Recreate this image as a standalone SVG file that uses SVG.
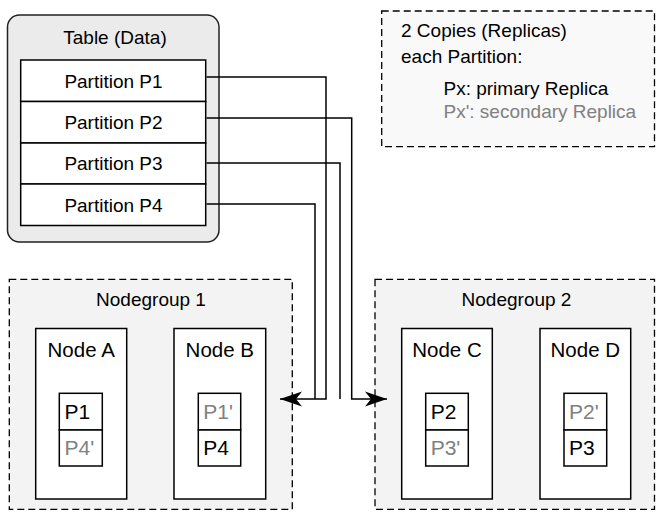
<svg xmlns="http://www.w3.org/2000/svg" width="656" height="512" viewBox="0 0 656 512">
<style>
text{font-family:"Liberation Sans",Arial,sans-serif;fill:#000}
.t19{font-size:19px}
.t20{font-size:20.5px}
.t21{font-size:21px}
.c{text-anchor:middle}
.g{fill:#808080}
.box{fill:#fff;stroke:#000;stroke-width:1.5}
.dash{stroke:#000;stroke-width:1.3;stroke-dasharray:7 4}
.conn{fill:none;stroke:#000;stroke-width:1.5}
</style>
<defs>
<marker id="arr" markerUnits="userSpaceOnUse" markerWidth="24" markerHeight="18" refX="22" refY="9" orient="auto">
<path d="M0,1.5 L22,9 L0,16.5 L6,9 Z" fill="#000"/>
</marker>
</defs>
<g id="table">
<rect x="7.5" y="15" width="211.5" height="227" rx="12" fill="#ebebeb" stroke="#222" stroke-width="1.5"/>
<text class="t19 c" x="115" y="44">Table (Data)</text>
</g>
<g id="partition-p1">
<rect class="box" x="20.7" y="60" width="185" height="41.5"/>
<text class="t19 c" x="113.5" y="88">Partition P1</text>
</g>
<g id="partition-p2">
<rect class="box" x="20.7" y="101.5" width="185" height="41.5"/>
<text class="t19 c" x="113.5" y="129.3">Partition P2</text>
</g>
<g id="partition-p3">
<rect class="box" x="20.7" y="143" width="185" height="41"/>
<text class="t19 c" x="113.5" y="170">Partition P3</text>
</g>
<g id="partition-p4">
<rect class="box" x="20.7" y="184" width="185" height="41.5"/>
<text class="t19 c" x="113.5" y="211.5">Partition P4</text>
</g>
<g id="legend">
<rect class="dash" x="381.7" y="11" width="272.8" height="135.7" fill="#f9f9f9"/>
<text class="t19" x="401" y="37">2 Copies (Replicas)</text>
<text class="t19" x="401" y="63">each Partition:</text>
<text class="t19" x="443.5" y="94.5">Px: primary Replica</text>
<text class="t19 g" x="443.5" y="118">Px': secondary Replica</text>
</g>
<g id="nodegroup-1">
<rect class="dash" x="9.3" y="279.3" width="283" height="230" fill="#f3f3f3"/>
<text class="t19 c" x="151" y="306">Nodegroup 1</text>
</g>
<g id="node-a">
<rect class="box" x="35.7" y="328.5" width="91" height="170.5"/>
<text class="t20 c" x="81.2" y="357.3">Node A</text>
<rect class="box" x="59.3" y="393.3" width="43" height="36.7"/>
<text class="t21" x="64.5" y="418.5">P1</text>
<rect class="box" x="59.3" y="430" width="43" height="36"/>
<text class="t21 g" x="64.5" y="455">P4'</text>
</g>
<g id="node-b">
<rect class="box" x="174" y="328.5" width="91.7" height="170.5"/>
<text class="t20 c" x="219.8" y="357.3">Node B</text>
<rect class="box" x="198.3" y="393.3" width="42.4" height="36.7"/>
<text class="t21 g" x="203.3" y="418.5">P1'</text>
<rect class="box" x="198.3" y="430" width="42.4" height="36"/>
<text class="t21" x="203.3" y="455">P4</text>
</g>
<g id="nodegroup-2">
<rect class="dash" x="375" y="279.3" width="279.5" height="230" fill="#f3f3f3"/>
<text class="t19 c" x="516.5" y="305.5">Nodegroup 2</text>
</g>
<g id="node-c">
<rect class="box" x="401.7" y="328.5" width="90.6" height="170.5"/>
<text class="t20 c" x="447" y="357.3">Node C</text>
<rect class="box" x="425.7" y="393.3" width="42.6" height="36.7"/>
<text class="t21" x="430.7" y="418.5">P2</text>
<rect class="box" x="425.7" y="430" width="42.6" height="36"/>
<text class="t21 g" x="430.7" y="455">P3'</text>
</g>
<g id="node-d">
<rect class="box" x="540" y="328.5" width="90.7" height="170.5"/>
<text class="t20 c" x="585.3" y="357.3">Node D</text>
<rect class="box" x="564" y="393.3" width="42.7" height="36.7"/>
<text class="t21 g" x="569" y="418.5">P2'</text>
<rect class="box" x="564" y="430" width="42.7" height="36"/>
<text class="t21" x="569" y="455">P3</text>
</g>
<g id="connectors">
<path class="conn" d="M206.5,77 H326 V399 H280" marker-end="url(#arr)"/>
<path class="conn" d="M206.5,204 H315 V399"/>
<path class="conn" d="M206.5,118 H351.7 V399 H387" marker-end="url(#arr)"/>
<path class="conn" d="M206.5,163 H340 V399"/>
</g>
</svg>
